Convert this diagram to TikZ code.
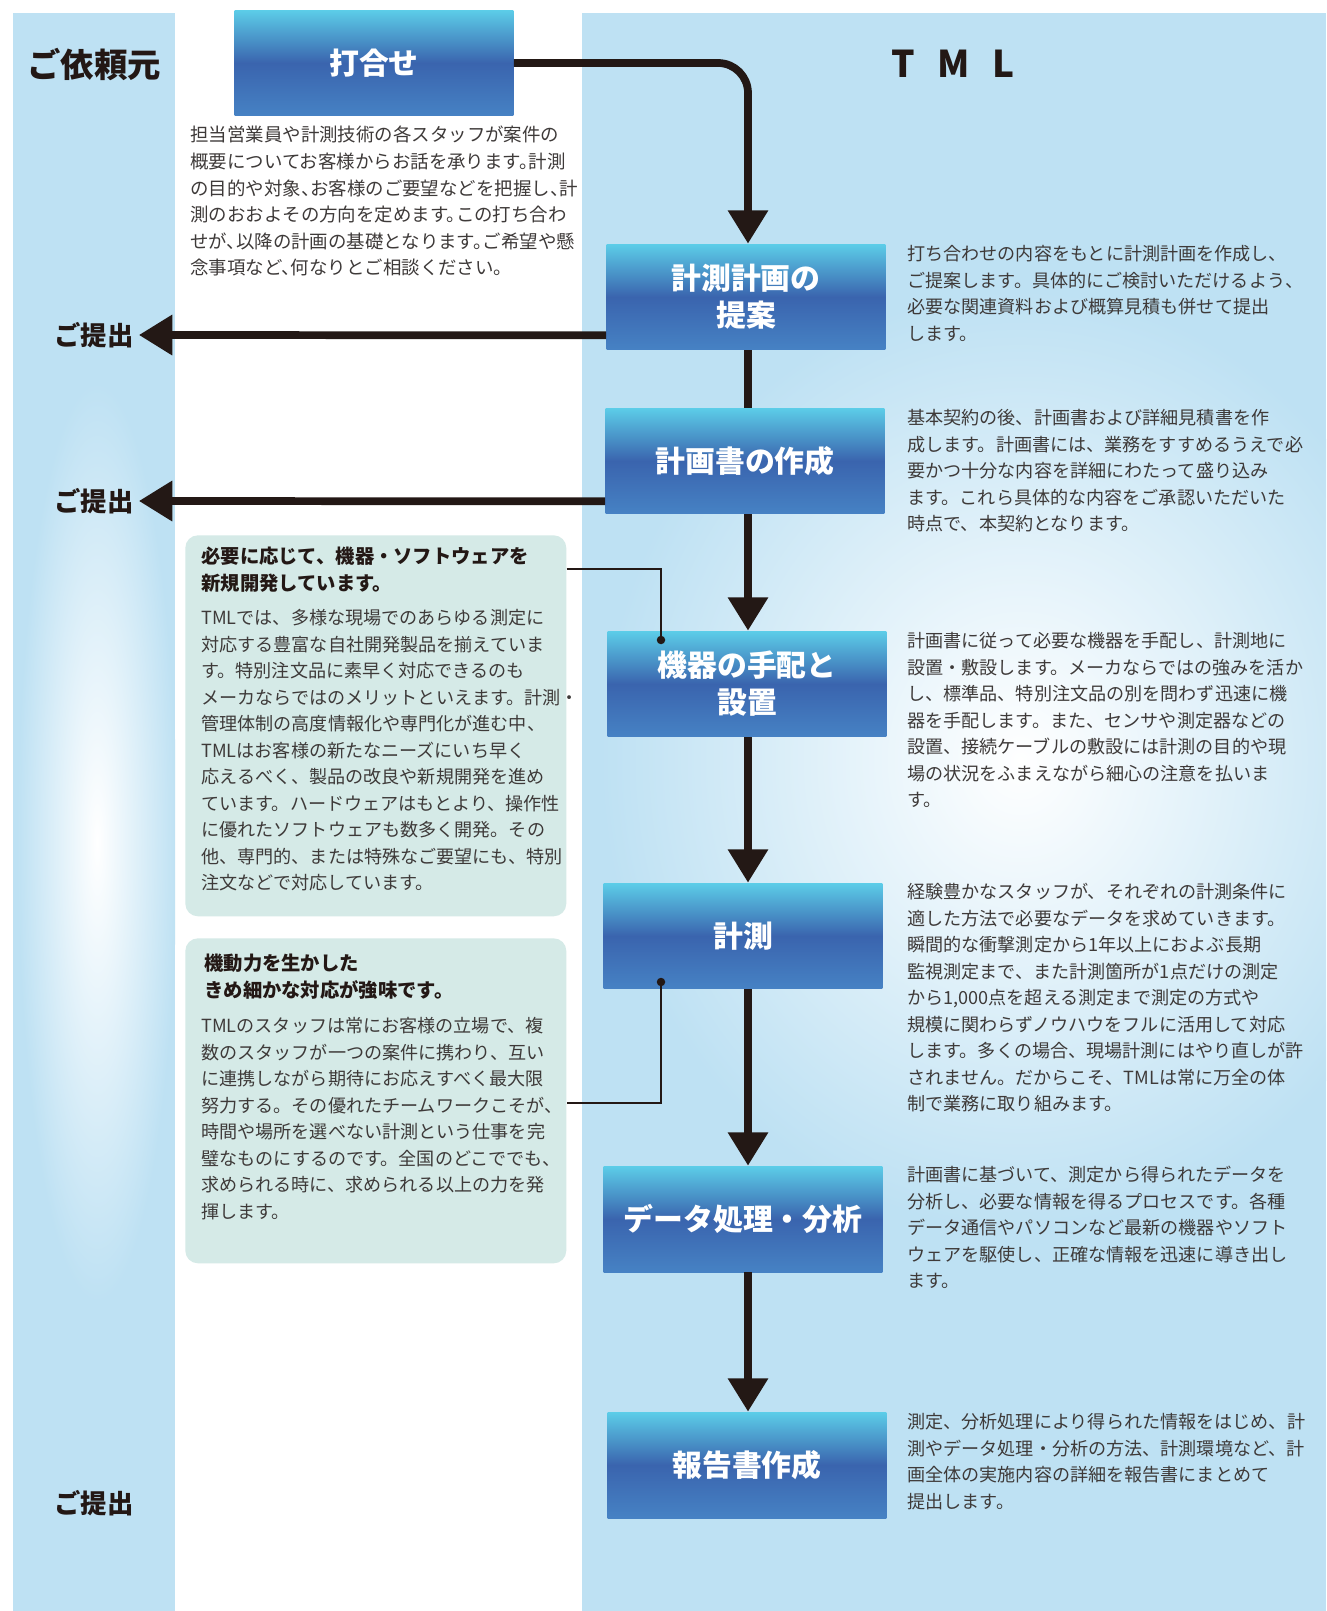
\documentclass[tikz,border=0pt]{standalone}
\usepackage{fontspec}
\newfontfamily\jpfont{Noto Sans CJK JP}
\newfontfamily\jphalt{Noto Sans CJK JP}[RawFeature=+halt]
\usetikzlibrary{arrows.meta}
\usetikzlibrary{calc}
\definecolor{stripblue}{RGB}{190,225,243}
\definecolor{boxtop}{RGB}{92,205,232}
\definecolor{boxmid}{RGB}{58,100,174}
\definecolor{boxbot}{RGB}{70,130,196}
\definecolor{notegreen}{RGB}{213,234,231}
\definecolor{linedark}{RGB}{35,24,21}
\definecolor{textgrey}{RGB}{62,58,57}
\tikzstyle{block} = [top color=boxtop, bottom color=boxbot, middle color=boxmid,
	minimum width = 5.58cm,
	minimum height = 2.12cm,
	text=white, align=center,
	font=\jpfont\bfseries\fontsize{17}{21}\selectfont]
\tikzstyle{arrow} = [-{Triangle[length=19pt, width=22pt]}, line width=4.4pt, draw=linedark]
\tikzstyle{desc} = [anchor=north west, inner sep=0pt, align=left, text=textgrey,
	font=\jpfont\fontsize{10.3}{15.1}\selectfont]
\tikzstyle{notetitle} = [desc, text=linedark, font=\jpfont\bfseries\fontsize{11}{15.1}\selectfont]
\tikzstyle{note} = [fill=notegreen, rounded corners=0.25cm, anchor=north west, minimum width=7.62cm]
\tikzstyle{heading} = [text=linedark, font=\jpfont\bfseries\fontsize{19}{22}\selectfont]
\tikzstyle{submit} = [text=linedark, inner sep=0.1cm, font=\jpfont\bfseries\fontsize{15}{18}\selectfont]
\tikzstyle{callout} = [line width=0.8pt, draw=linedark]
\tikzstyle{dot} = [circle, fill=linedark, inner sep=0pt, minimum size=0.17cm]

\begin{document}
\begin{tikzpicture}[x=0.02cm, y=-0.02cm]
	\useasboundingbox (0,0) rectangle (1326,1611);
	\fill[white] (0,0) rectangle (1326,1611);
	% columns for the client and for TML
	\fill[stripblue] (13,13) rectangle (175,1611);
	\fill[stripblue] (582,13) rectangle (1326,1611);
	\begin{scope}
		\clip (13,13) rectangle (175,1611);
		\shade[inner color=white, outer color=stripblue] (97,842) ellipse (80 and 460);
	\end{scope}
	\begin{scope}
		\clip (582,13) rectangle (1326,1611);
		\shade[inner color=white, outer color=stripblue] (1020,760) ellipse (420 and 470);
	\end{scope}
	
	\node (client) [heading] at (94,64) {ご依頼元};
	\node (tml) [heading, font=\jpfont\bfseries\fontsize{21}{22}\selectfont] at (953,64) {T\hspace{0.6em}M\hspace{0.6em}L};
	
	% flow
	\coordinate (trunk) at (748,0);
	\node (meet) [block] at (374,63) {打合せ};
	\node (plan) [block] at (746,297) {計測計画の\\提案};
	\node (doc) [block] at (745,461) {計画書の作成};
	\node (equip) [block] at (747,684) {機器の手配と\\設置};
	\node (meas) [block] at (743,936) {計測};
	\node (data) [block] at (743,1219) {データ処理・分析};
	\node (report) [block] at (747,1465) {報告書作成};
	
	\draw [arrow, rounded corners=0.6cm] (meet.east) -| (plan.north -| trunk);
	\draw [line width=4.4pt, draw=linedark] (plan.south -| trunk) -- (doc.north -| trunk);
	\draw [arrow] (doc.south -| trunk) -- (equip.north -| trunk);
	\draw [arrow] (equip.south -| trunk) -- (meas.north -| trunk);
	\draw [arrow] (meas.south -| trunk) -- (data.north -| trunk);
	\draw [arrow] (data.south -| trunk) -- (report.north -| trunk);
	
	% submissions to the client
	\node (submit1) [submit] at (94,335) {ご提出};
	\node (submit2) [submit] at (94,501) {ご提出};
	\node (submit3) [submit] at (94,1503) {ご提出};
	\draw [arrow] ($(plan.south west)+(0,-15)$) -- (submit1.east);
	\draw [arrow] ($(doc.south west)+(0,-13)$) -- (submit2.east);
	
	% texts
	\node (meettxt) [desc, font=\jphalt\fontsize{10.5}{15.1}\selectfont] at (190,126) {担当営業員や計測技術の各スタッフが案件の\\概要についてお客様からお話を承ります。計測\\の目的や対象、お客様のご要望などを把握し、計\\測のおおよその方向を定めます。この打ち合わ\\せが、以降の計画の基礎となります。ご希望や懸\\念事項など、何なりとご相談ください。};
	\node (plantxt) [desc] at (907,245) {打ち合わせの内容をもとに計測計画を作成し、\\ご提案します。具体的にご検討いただけるよう、\\必要な関連資料および概算見積も併せて提出\\します。};
	\node (doctxt) [desc] at (907,409) {基本契約の後、計画書および詳細見積書を作\\成します。計画書には、業務をすすめるうえで必\\要かつ十分な内容を詳細にわたって盛り込み\\ます。これら具体的な内容をご承認いただいた\\時点で、本契約となります。};
	\node (equiptxt) [desc] at (907,632) {計画書に従って必要な機器を手配し、計測地に\\設置・敷設します。メーカならではの強みを活か\\し、標準品、特別注文品の別を問わず迅速に機\\器を手配します。また、センサや測定器などの\\設置、接続ケーブルの敷設には計測の目的や現\\場の状況をふまえながら細心の注意を払いま\\す。};
	\node (meastxt) [desc] at (907,883) {経験豊かなスタッフが、それぞれの計測条件に\\適した方法で必要なデータを求めていきます。\\瞬間的な衝撃測定から1年以上におよぶ長期\\監視測定まで、また計測箇所が1点だけの測定\\から1,000点を超える測定まで測定の方式や\\規模に関わらずノウハウをフルに活用して対応\\します。多くの場合、現場計測にはやり直しが許\\されません。だからこそ、TMLは常に万全の体\\制で業務に取り組みます。};
	\node (datatxt) [desc] at (907,1166) {計画書に基づいて、測定から得られたデータを\\分析し、必要な情報を得るプロセスです。各種\\データ通信やパソコンなど最新の機器やソフト\\ウェアを駆使し、正確な情報を迅速に導き出し\\ます。};
	\node (reporttxt) [desc] at (907,1413) {測定、分析処理により得られた情報をはじめ、計\\測やデータ処理・分析の方法、計測環境など、計\\画全体の実施内容の詳細を報告書にまとめて\\提出します。};
	
	% notes
	\node (needs) [note, minimum height=7.62cm] at (185,535) {};
	\node (needshead) [notetitle] at (201,547) {必要に応じて、機器・ソフトウェアを\\新規開発しています。};
	\node (needstxt) [desc] at (201,609) {TMLでは、多様な現場でのあらゆる測定に\\対応する豊富な自社開発製品を揃えていま\\す。特別注文品に素早く対応できるのも\\メーカならではのメリットといえます。計測・\\管理体制の高度情報化や専門化が進む中、\\TMLはお客様の新たなニーズにいち早く\\応えるべく、製品の改良や新規開発を進め\\ています。ハードウェアはもとより、操作性\\に優れたソフトウェアも数多く開発。その\\他、専門的、または特殊なご要望にも、特別\\注文などで対応しています。};
	\node (agile) [note, minimum height=6.5cm] at (185,938) {};
	\node (agilehead) [notetitle] at (204,954) {機動力を生かした\\きめ細かな対応が強味です。};
	\node (agiletxt) [desc] at (201,1017) {TMLのスタッフは常にお客様の立場で、複\\数のスタッフが一つの案件に携わり、互い\\に連携しながら期待にお応えすべく最大限\\努力する。その優れたチームワークこそが、\\時間や場所を選べない計測という仕事を完\\璧なものにするのです。全国のどこででも、\\求められる時に、求められる以上の力を発\\揮します。};
	
	\node (dotA) [dot] at (661,640) {};
	\node (dotB) [dot] at (661,982) {};
	\draw [callout] ($(needs.north east)+(0,34)$) -| (dotA.center);
	\draw [callout] (dotB.center) |- ($(agile.north east)+(0,165)$);
\end{tikzpicture}
\end{document}
